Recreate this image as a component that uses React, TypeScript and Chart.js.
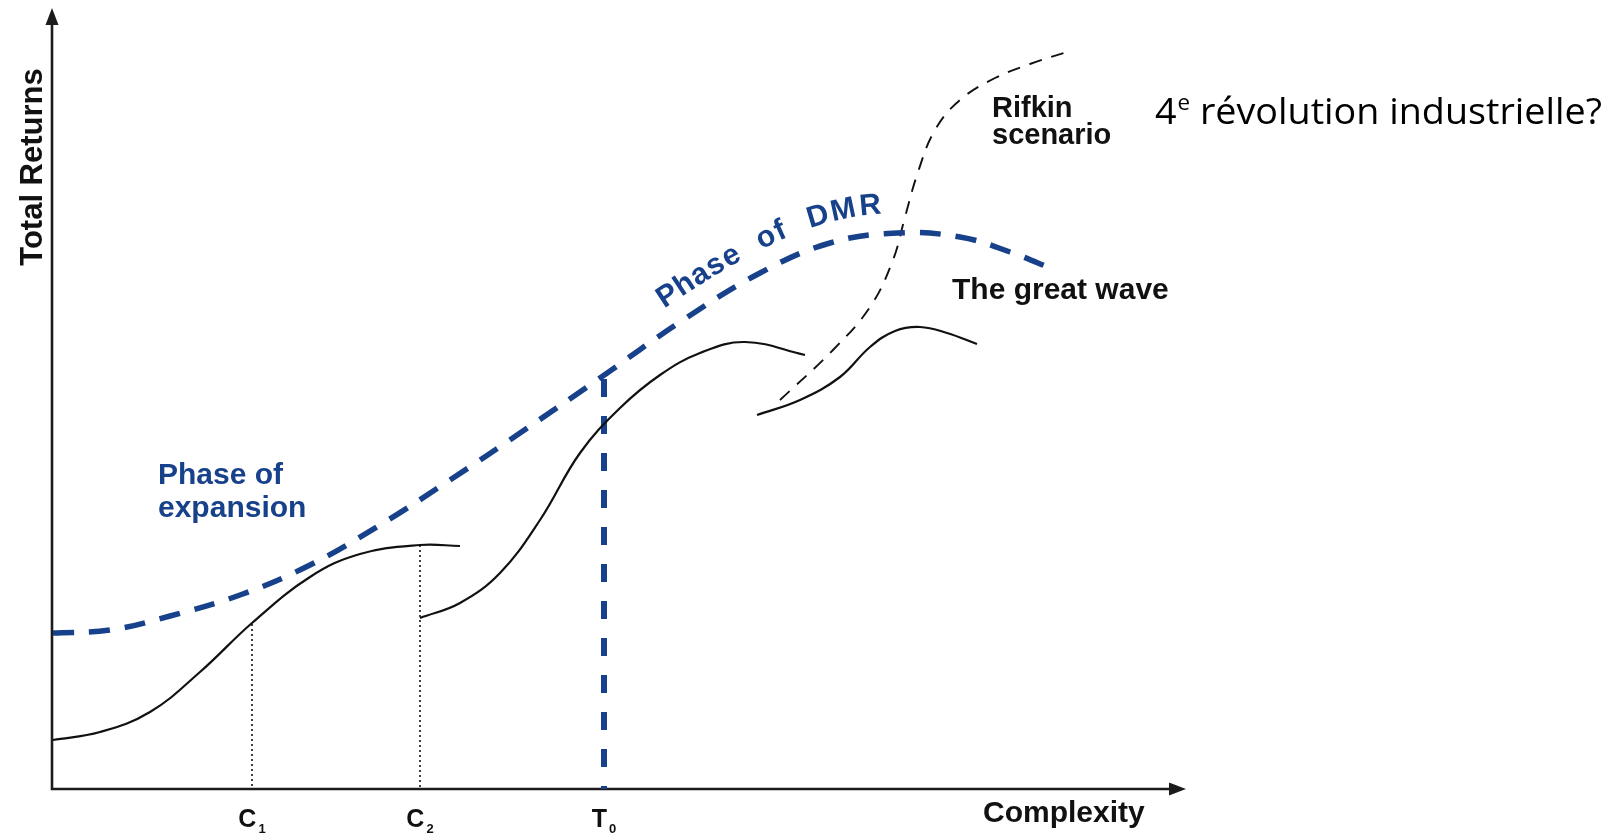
import React, { useEffect, useRef } from "react";
import { Chart, registerables } from "chart.js";

Chart.register(...registerables);

// ---------- data (x = complexity units, y = total-returns units) ----------
const axisMaxX = 113.4;
const axisMaxY = 78.1;

// "Phase of DMR" / great wave envelope (blue dashed)
const dmrX = [0.1, 5.8, 11.8, 18.8, 25.8, 32.8, 39.8, 46.8, 54.8, 62.8, 70.8, 77.8, 84.5, 90.8, 95.8, 100.3];
const dmrY = [15.6, 15.9, 17.3, 19.4, 22.4, 26.4, 30.9, 35.6, 41.1, 46.7, 51.6, 54.6, 55.6, 55.2, 53.7, 51.9];

// first technological wave (solid)
const wave1X = [0.1, 4.8, 9.8, 14.8, 20.0, 25.8, 30.8, 36.8, 40.8];
const wave1Y = [4.9, 5.7, 7.7, 11.7, 16.6, 21.2, 23.5, 24.4, 24.3];

// second wave (solid)
const wave2X = [36.8, 40.8, 44.8, 48.8, 52.8, 56.8, 60.8, 64.8, 69.3, 75.3];
const wave2Y = [17.1, 18.6, 21.6, 26.9, 33.6, 38.1, 41.4, 43.6, 44.7, 43.4];

// third wave (solid)
const wave3X = [70.5, 74.8, 78.8, 81.8, 84.3, 86.8, 89.5, 92.5];
const wave3Y = [37.4, 38.9, 41.2, 44.2, 45.8, 46.2, 45.6, 44.5];

// Rifkin scenario (thin black dashed)
const rifkinX = [72.8, 78.1, 81.8, 84.1, 85.3, 86.6, 88.3, 90.8, 94.3, 97.8, 101.5];
const rifkinY = [38.9, 43.9, 48.2, 52.9, 57.2, 61.7, 65.9, 68.9, 71.1, 72.5, 73.7];

// markers on the complexity axis
const markerNames = ["C", "C", "T"];
const markerSubs = ["1", "2", "0"];
const markerX = [20.0, 36.8, 55.2];
const markerTop = [16.5, 24.4, 41.0];

// ---------- styles ----------
const FONT = '"Liberation Sans", Arial, Helvetica, sans-serif';
const BLUE = "#17418a";
const INK = "#111111";

type Pt = { x: number; y: number };
const pts = (xs: number[], ys: number[]): Pt[] => xs.map((x, i) => ({ x, y: ys[i] }));

function drawText(ctx: CanvasRenderingContext2D, text: string, x: number, y: number, font: string, color: string, sx = 1) {
  ctx.save();
  ctx.font = font;
  ctx.fillStyle = color;
  ctx.textAlign = "left";
  ctx.textBaseline = "alphabetic";
  ctx.translate(x, y);
  ctx.scale(sx, 1);
  ctx.fillText(text, 0, 0);
  ctx.restore();
}

const overlay = {
  id: "overlay",
  beforeDatasetsDraw(chart: any) {
    const ctx: CanvasRenderingContext2D = chart.ctx;
    const xs = chart.scales.x;
    const ys = chart.scales.y;
    const x0 = xs.getPixelForValue(0);
    const y0 = ys.getPixelForValue(0);
    const xEnd = xs.getPixelForValue(axisMaxX);
    const yEnd = ys.getPixelForValue(axisMaxY);
    ctx.save();
    ctx.strokeStyle = "#1b1b1b";
    ctx.fillStyle = "#1b1b1b";
    ctx.lineWidth = 2.6;
    ctx.beginPath();
    ctx.moveTo(x0, y0 + 1.2);
    ctx.lineTo(x0, yEnd + 12);
    ctx.moveTo(x0 - 1.2, y0);
    ctx.lineTo(xEnd - 12, y0);
    ctx.stroke();
    ctx.beginPath();
    ctx.moveTo(x0, yEnd);
    ctx.lineTo(x0 - 6.5, yEnd + 17);
    ctx.lineTo(x0 + 6.5, yEnd + 17);
    ctx.closePath();
    ctx.fill();
    ctx.beginPath();
    ctx.moveTo(xEnd, y0);
    ctx.lineTo(xEnd - 17, y0 - 6.5);
    ctx.lineTo(xEnd - 17, y0 + 6.5);
    ctx.closePath();
    ctx.fill();
    ctx.restore();
  },
  afterDatasetsDraw(chart: any) {
    const ctx: CanvasRenderingContext2D = chart.ctx;
    const xs = chart.scales.x;
    const ys = chart.scales.y;
    const px = (v: number) => xs.getPixelForValue(v);
    const py = (v: number) => ys.getPixelForValue(v);
    const bold = (s: number) => `bold ${s}px ${FONT}`;

    // axis titles
    ctx.save();
    ctx.font = bold(31);
    ctx.fillStyle = INK;
    ctx.textAlign = "center";
    ctx.textBaseline = "alphabetic";
    ctx.translate(px(-1.0), py(62.2));
    ctx.rotate(-Math.PI / 2);
    ctx.fillText("Total Returns", 0, 0);
    ctx.restore();
    drawText(ctx, "Complexity", px(93.1), py(-3.3), bold(30), INK);

    // marker labels with subscripts
    for (let i = 0; i < markerX.length; i++) {
      ctx.save();
      ctx.font = bold(25);
      const w1 = ctx.measureText(markerNames[i]).width;
      ctx.font = bold(13);
      const w2 = ctx.measureText(markerSubs[i]).width;
      ctx.restore();
      const left = px(markerX[i]) - (w1 + 2 + w2) / 2;
      const base = py(-3.8);
      drawText(ctx, markerNames[i], left, base, bold(25), INK);
      drawText(ctx, markerSubs[i], left + w1 + 2, base + 6, bold(13), INK);
    }

    // annotations
    drawText(ctx, "Phase of", px(10.6), py(30.5), bold(30), BLUE);
    drawText(ctx, "expansion", px(10.6), py(27.2), bold(30), BLUE);
    drawText(ctx, "The great wave", px(90.0), py(49.0), bold(30), INK);
    drawText(ctx, "Rifkin", px(94.0), py(67.2), bold(29), INK);
    drawText(ctx, "scenario", px(94.0), py(64.5), bold(29), INK);

    // 4e révolution industrielle?
    {
      const f1 = `37px "Open Sans", "Noto Sans", sans-serif`;
      const f2 = `22px "Open Sans", "Noto Sans", sans-serif`;
      const rest = " révolution industrielle?";
      ctx.save();
      ctx.font = f1;
      const wa = ctx.measureText("4").width;
      const wr = ctx.measureText(rest).width;
      ctx.font = f2;
      const wb = ctx.measureText("e").width;
      ctx.restore();
      const x0 = px(110.3);
      const target = px(155.0) - x0;
      const sx = target / (wa + 1 + wb + wr);
      const base = py(66.5);
      let x = x0;
      drawText(ctx, "4", x, base, f1, "#000", sx);
      x += (wa + 1) * sx;
      drawText(ctx, "e", x, base - 14, f2, "#000", sx);
      x += wb * sx;
      drawText(ctx, rest, x, base, f1, "#000", sx);
    }

    // curved "Phase of DMR" along the DMR envelope (sampled from the drawn bezier)
    const meta = chart.getDatasetMeta(0);
    const els: any[] = meta.data;
    const P: { x: number; y: number }[] = [];
    for (let i = 0; i < els.length - 1; i++) {
      const a = els[i];
      const b = els[i + 1];
      const c1x = a.cp2x ?? a.x, c1y = a.cp2y ?? a.y;
      const c2x = b.cp1x ?? b.x, c2y = b.cp1y ?? b.y;
      for (let k = 0; k < 20; k++) {
        const t = k / 20;
        const u = 1 - t;
        P.push({
          x: u * u * u * a.x + 3 * u * u * t * c1x + 3 * u * t * t * c2x + t * t * t * b.x,
          y: u * u * u * a.y + 3 * u * u * t * c1y + 3 * u * t * t * c2y + t * t * t * b.y,
        });
      }
    }
    P.push({ x: els[els.length - 1].x, y: els[els.length - 1].y });
    const cum: number[] = [0];
    for (let i = 1; i < P.length; i++) cum.push(cum[i - 1] + Math.hypot(P[i].x - P[i - 1].x, P[i].y - P[i - 1].y));
    const at = (s: number) => {
      let i = 1;
      while (i < P.length - 1 && cum[i] < s) i++;
      const t = (s - cum[i - 1]) / (cum[i] - cum[i - 1] || 1);
      const x = P[i - 1].x + (P[i].x - P[i - 1].x) * t;
      const y = P[i - 1].y + (P[i].y - P[i - 1].y) * t;
      const j0 = Math.max(0, i - 3), j1 = Math.min(P.length - 1, i + 2);
      const a = Math.atan2(P[j1].y - P[j0].y, P[j1].x - P[j0].x);
      return { x, y, a };
    };
    const startPx = px(62.3);
    let s0 = 0;
    for (let i = 1; i < P.length; i++) {
      if (P[i].x >= startPx) {
        const t = (startPx - P[i - 1].x) / (P[i].x - P[i - 1].x);
        s0 = cum[i - 1] + t * (cum[i] - cum[i - 1]);
        break;
      }
    }
    ctx.save();
    ctx.font = bold(30);
    ctx.fillStyle = BLUE;
    ctx.textBaseline = "alphabetic";
    ctx.textAlign = "center";
    const label = "Phase of DMR";
    let s = s0;
    const offset = 20;
    for (const ch of label) {
      const w = ch === " " ? 20 : ctx.measureText(ch).width + 0.6;
      if (ch !== " ") {
        const p = at(s + w / 2);
        const nx = Math.sin(p.a) * offset;
        const ny = -Math.cos(p.a) * offset;
        ctx.save();
        ctx.translate(p.x + nx, p.y + ny);
        ctx.rotate(p.a);
        ctx.fillText(ch, 0, 0);
        ctx.restore();
      }
      s += w;
    }
    ctx.restore();
  },
};

export default function App() {
  const ref = useRef<HTMLCanvasElement | null>(null);
  useEffect(() => {
    if (!ref.current) return;
    const line = (data: Pt[], color: string, width: number, dash: number[]) => ({
      data,
      showLine: true,
      borderColor: color,
      borderWidth: width,
      borderDash: dash,
      pointRadius: 0,
      tension: 0.4,
      fill: false,
      clip: false as any,
    });
    const chart = new Chart(ref.current, {
      type: "scatter",
      data: {
        datasets: [
          line(pts(dmrX, dmrY), BLUE, 5.5, [21, 15]),
          line(pts(wave1X, wave1Y), INK, 2.2, []),
          line(pts(wave2X, wave2Y), INK, 2.2, []),
          line(pts(wave3X, wave3Y), INK, 2.2, []),
          line(pts(rifkinX, rifkinY), INK, 1.9, [13, 10]),
          ...markerX.map((mx, i) => ({
            data: [
              { x: mx, y: markerTop[i] },
              { x: mx, y: 0 },
            ],
            showLine: true,
            borderColor: i === 2 ? BLUE : INK,
            borderWidth: i === 2 ? 6 : 1.6,
            borderDash: i === 2 ? [18, 19] : [2, 3],
            pointRadius: 0,
            tension: 0,
            fill: false,
            clip: false as any,
          })),
        ],
      },
      options: {
        responsive: false,
        animation: false,
        events: [],
        layout: { padding: { left: 52, right: 428, top: 8, bottom: 44 } },
        plugins: { legend: { display: false }, tooltip: { enabled: false } },
        scales: {
          x: { type: "linear", min: 0, max: axisMaxX, display: false },
          y: { type: "linear", min: 0, max: axisMaxY, display: false },
        },
      },
      plugins: [overlay],
    });
    return () => chart.destroy();
  }, []);
  return (
    <div style={{ position: "fixed", left: 0, top: 0, width: 1614, height: 833, background: "#fff" }}>
      <canvas ref={ref} width={1614} height={833} style={{ display: "block", width: 1614, height: 833 }} />
    </div>
  );
}
